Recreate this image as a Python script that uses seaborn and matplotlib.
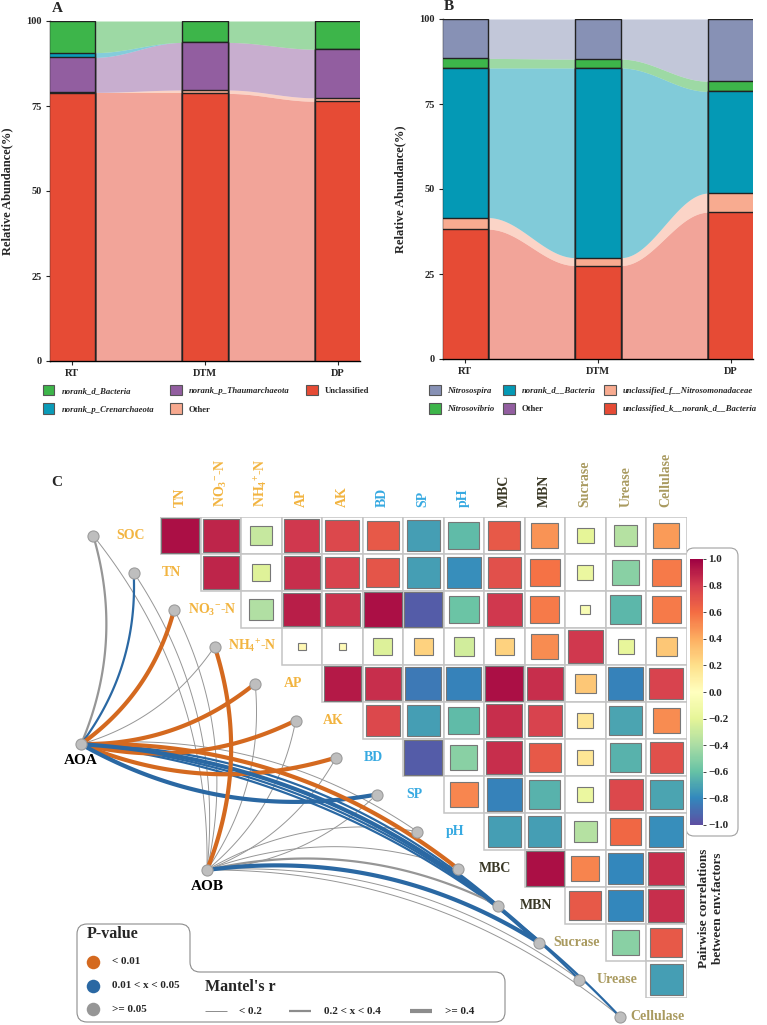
import numpy as np
import seaborn as sns
import matplotlib.pyplot as plt
from matplotlib.patches import Patch, Rectangle, FancyBboxPatch, PathPatch
from matplotlib.path import Path
from matplotlib.colors import Normalize
from matplotlib.cm import ScalarMappable
from matplotlib.ticker import FuncFormatter

sns.set_theme(style='ticks')
plt.rcParams['font.family'] = ['Liberation Serif', 'DejaVu Serif']
plt.rcParams.update({
    'font.weight': 'bold',
    'axes.labelweight': 'bold',
    'mathtext.fontset': 'custom',
    'mathtext.rm': 'Liberation Serif:bold',
    'mathtext.bf': 'Liberation Serif:bold',
    'mathtext.it': 'Liberation Serif:italic:bold',
    'mathtext.default': 'bf',
})

# ---------------- data ----------------
sites = ['RT', 'DTM', 'DP']

# panel A, stacked from bottom to top
a_taxa = ['Unclassified', 'Other', 'norank_p_Thaumarchaeota',
          'norank_p_Crenarchaeota', 'norank_d_Bacteria']
a_unclassified = [78.7, 78.7, 76.4]
a_other = [0.3, 1.0, 1.0]
a_thaum = [10.3, 14.0, 14.3]
a_cren = [1.4, 0.0, 0.0]
a_bacteria = [9.3, 6.3, 8.3]
a_colors = ['#E64B35', '#F7A98F', '#925EA0', '#0A9BB8', '#3DB54A']
a_legend_order = [4, 3, 2, 1, 0]

# panel B, stacked from bottom to top
b_taxa = ['unclassified_k__norank_d__Bacteria', 'unclassified_f__Nitrosomonadaceae',
          'norank_d__Bacteria', 'Other', 'Nitrosovibrio', 'Nitrosospira']
b_unc_k = [38.2, 27.5, 43.2]
b_unc_f = [3.4, 2.3, 5.6]
b_norank = [44.0, 55.8, 29.9]
b_other = [0.0, 0.0, 0.0]
b_vibrio = [2.8, 2.6, 3.0]
b_spira = [11.6, 11.8, 18.3]
b_colors = ['#E64B35', '#F8AB90', '#0499B5', '#925EA0', '#3DB54A', '#8791B5']
b_legend_order = [5, 4, 2, 3, 1, 0]

# panel C
env_labels = ['SOC', 'TN', r'NO$_3$$^{-}$-N', r'NH$_4$$^{+}$-N', 'AP', 'AK', 'BD', 'SP',
              'pH', 'MBC', 'MBN', 'Sucrase', 'Urease', 'Cellulase']
env_colors = ['#F2B440'] * 6 + ['#36A9E1'] * 3 + ['#3A3826'] * 2 + ['#A99A5F'] * 3

# pairwise correlations, row i holds columns i+1 .. 13
r_rows = [
    [0.95, 0.88, -0.31, 0.82, 0.75, 0.68, -0.72, -0.62, 0.68, 0.48, -0.20, -0.36, 0.46],
    [0.88, -0.22, 0.85, 0.78, 0.70, -0.72, -0.78, 0.72, 0.58, -0.16, -0.50, 0.56],
    [-0.38, 0.90, 0.83, 0.95, -0.95, -0.58, 0.82, 0.56, -0.06, -0.64, 0.56],
    [0.04, 0.03, -0.23, 0.25, -0.27, 0.25, 0.50, 0.82, -0.18, 0.30],
    [0.92, 0.85, -0.85, -0.82, 0.95, 0.85, 0.30, -0.82, 0.78],
    [0.75, -0.72, -0.62, 0.85, 0.78, 0.16, -0.70, 0.50],
    [-0.95, -0.50, 0.85, 0.68, 0.16, -0.65, 0.72],
    [0.52, -0.82, -0.65, -0.16, 0.75, -0.70],
    [-0.72, -0.72, -0.36, 0.62, -0.78],
    [0.95, 0.53, -0.80, 0.85],
    [0.68, -0.80, 0.85],
    [-0.50, 0.68],
    [-0.72],
]

# Mantel tests (AOA / AOB against each env factor)
aoa_p = ['>= 0.05', '0.01 < x < 0.05', '< 0.01', '>= 0.05', '< 0.01', '< 0.01', '< 0.01',
         '0.01 < x < 0.05', '>= 0.05', '< 0.01', '0.01 < x < 0.05', '0.01 < x < 0.05',
         '0.01 < x < 0.05', '0.01 < x < 0.05']
aoa_r = ['0.2 < x < 0.4', '0.2 < x < 0.4', '>= 0.4', '< 0.2', '>= 0.4', '>= 0.4', '>= 0.4',
         '>= 0.4', '< 0.2', '>= 0.4', '0.2 < x < 0.4', '>= 0.4', '0.2 < x < 0.4',
         '0.2 < x < 0.4']
aob_p = ['>= 0.05', '>= 0.05', '>= 0.05', '< 0.01', '>= 0.05', '>= 0.05', '>= 0.05',
         '>= 0.05', '>= 0.05', '>= 0.05', '>= 0.05', '0.01 < x < 0.05', '>= 0.05', '>= 0.05']
aob_r = ['< 0.2', '< 0.2', '< 0.2', '>= 0.4', '< 0.2', '< 0.2', '< 0.2', '< 0.2', '< 0.2',
         '< 0.2', '0.2 < x < 0.4', '>= 0.4', '< 0.2', '< 0.2']

p_levels = ['< 0.01', '0.01 < x < 0.05', '>= 0.05']
p_colors = ['#D4691F', '#2A68A3', '#969696']
r_levels = ['< 0.2', '0.2 < x < 0.4', '>= 0.4']
r_widths = [0.7, 1.6, 3.0]

# ---------------- figure ----------------
W, H = 767, 1025
fig = plt.figure(figsize=(W / 100, H / 100), dpi=100)


def px_axes(x0, y0, x1, y1):
    return fig.add_axes([x0 / W, 1 - y1 / H, (x1 - x0) / W, (y1 - y0) / H])


ov = px_axes(0, 0, W, H)
ov.set_xlim(0, W)
ov.set_ylim(H, 0)
ov.axis('off')


def draw_stack(ax, layers, colors, w=0.34):
    vals = np.array(layers)
    cum = np.cumsum(vals, axis=0)
    for k in range(len(vals) - 1, -1, -1):
        sns.barplot(x=sites, y=cum[k], color=colors[k], saturation=1, width=w,
                    edgecolor='#222222', linewidth=1.0, ax=ax, zorder=3)
    t = np.linspace(0, 1, 80)
    s = (1 - np.cos(np.pi * t)) / 2
    for i in range(len(sites) - 1):
        xs = i + w / 2 + t * (1 - w)
        for k in range(len(vals)):
            lo = np.zeros(len(sites)) if k == 0 else cum[k - 1]
            hi = cum[k]
            ax.fill_between(xs, lo[i] + (lo[i + 1] - lo[i]) * s,
                            hi[i] + (hi[i + 1] - hi[i]) * s,
                            color=colors[k], alpha=0.5, lw=0, zorder=1)
    ax.set_xlim(-0.165, 2.165)
    ax.set_ylim(0, 100)
    ax.set_yticks([0, 25, 50, 75, 100])
    ax.set_xlabel('')
    ax.set_ylabel('Relative Abundance(%)', fontsize=9, labelpad=9)
    ax.tick_params(labelsize=7.5, length=3, width=0.8, pad=3)
    for sp in ['top', 'right']:
        ax.spines[sp].set_visible(False)
    for sp in ['left', 'bottom']:
        ax.spines[sp].set_color('black')
        ax.spines[sp].set_linewidth(1.0)


def stack_legend(ax, taxa, colors, order, anchor, colspace, plain=('Other', 'Unclassified')):
    handles = [Patch(facecolor=colors[k], edgecolor='#555555', lw=0.8) for k in order]
    leg = ax.legend(handles, [taxa[k] for k in order], ncol=3, loc='upper left',
                    bbox_to_anchor=anchor, frameon=False, fontsize=6.2,
                    handlelength=1.35, handleheight=1.5, handletextpad=0.8,
                    columnspacing=colspace, labelspacing=0.95, borderpad=0,
                    borderaxespad=0)
    for txt in leg.get_texts():
        if txt.get_text() not in plain:
            txt.set_style('italic')
    return leg


axA = px_axes(50, 21, 360, 361)
draw_stack(axA, [a_unclassified, a_other, a_thaum, a_cren, a_bacteria], a_colors)
stack_legend(axA, a_taxa, a_colors, a_legend_order, (-0.023, -0.07), 1.9)

axB = px_axes(443, 19, 753, 359)
draw_stack(axB, [b_unc_k, b_unc_f, b_norank, b_other, b_vibrio, b_spira], b_colors)
stack_legend(axB, b_taxa, b_colors, b_legend_order, (-0.045, -0.075), 1.0)

ov.text(57, 8, 'A', fontsize=11, fontweight='bold', ha='center', va='center')
ov.text(449, 7, 'B', fontsize=11, fontweight='bold', ha='center', va='center')
ov.text(57, 482, 'C', fontsize=11, fontweight='bold', ha='center', va='center')

# ---------------- panel C: correlogram ----------------
axC = px_axes(160, 517, 686.5, 998)
axC.set_xlim(0, 13)
axC.set_ylim(13, 0)
axC.axis('off')
cmap = plt.get_cmap('Spectral_r')
norm = Normalize(-1, 1)

for i, row in enumerate(r_rows):
    for k, r in enumerate(row):
        j = i + k
        axC.add_patch(Rectangle((j, i), 1, 1, facecolor='white', edgecolor='#C4C4C4',
                                lw=1.1, zorder=1))
        s = np.sqrt(abs(r)) * 0.96
        axC.add_patch(Rectangle((j + 0.5 - s / 2, i + 0.5 - s / 2), s, s,
                                facecolor=cmap(norm(r)), edgecolor='#777777',
                                lw=0.8, zorder=2))

for j in range(13):
    axC.text(j + 0.5, -0.27, env_labels[j + 1], rotation=90, ha='center', va='bottom',
             fontsize=10, fontweight='bold', color=env_colors[j + 1])

nodes = [(i - 1.65, i + 0.5) for i in range(14)]
for i, (nx, ny) in enumerate(nodes):
    axC.text(i - 0.72, ny, env_labels[i], ha='center', va='center', fontsize=10,
             fontweight='bold', color=env_colors[i])

aoa_xy = (-1.95, 6.14)
aob_xy = (1.16, 9.54)


def curve(ax, p0, p1, sign, k=0.18, **kw):
    a = ax.transData.transform(p0)
    b = ax.transData.transform(p1)
    d = b - a
    L = np.hypot(*d)
    nrm = np.array([d[1], -d[0]]) / L
    c = (a + b) / 2 + sign * k * L * nrm
    t = np.linspace(0, 1, 80)[:, None]
    pts = (1 - t) ** 2 * a + 2 * (1 - t) * t * c + t ** 2 * b
    back = ax.transData.inverted().transform(pts)
    ax.plot(back[:, 0], back[:, 1], clip_on=False, solid_capstyle='round', **kw)


links = []
for src, ps, rs in [(aoa_xy, aoa_p, aoa_r), (aob_xy, aob_p, aob_r)]:
    for i in range(14):
        links.append((r_levels.index(rs[i]), src, nodes[i], ps[i], i))
for lvl, src, dst, p, i in sorted(links, key=lambda x: x[0]):
    curve(axC, src, dst, 1 if i <= 7 else -1,
          color=p_colors[p_levels.index(p)], lw=r_widths[lvl], zorder=3)

nx = [n[0] for n in nodes] + [aoa_xy[0], aob_xy[0]]
ny = [n[1] for n in nodes] + [aoa_xy[1], aob_xy[1]]
axC.plot(nx, ny, 'o', ms=8, mfc='#BEBEBE', mec='#9C9C9C', mew=0.8, zorder=5, clip_on=False)
axC.text(aoa_xy[0], aoa_xy[1] + 0.45, 'AOA', ha='center', va='center', fontsize=11,
         fontweight='bold', color='black')
axC.text(aob_xy[0], aob_xy[1] + 0.45, 'AOB', ha='center', va='center', fontsize=11,
         fontweight='bold', color='black')

# colorbar with rounded frame
ov.add_patch(FancyBboxPatch((686, 548), 52, 288, boxstyle='round,pad=0,rounding_size=8',
                            fc='white', ec='#A0A0A0', lw=0.8))
cax = px_axes(690, 559, 703, 825)
cb = fig.colorbar(ScalarMappable(norm=norm, cmap=cmap), cax=cax,
                  ticks=np.linspace(-1, 1, 11))
cb.outline.set_visible(False)
cb.ax.yaxis.set_major_formatter(FuncFormatter(
    lambda v, _: '0.0' if abs(v) < 1e-9 else f'{v:.1f}'.replace('-', '\u2212')))
cb.ax.tick_params(labelsize=8, length=2, width=0.6, pad=2)
ov.text(711, 908, 'Pairwise correlations\nbetween env.factors', rotation=90,
        ha='center', va='center', fontsize=9.5, fontweight='bold', linespacing=1.3)

# Mantel legend box
r0 = 10
x0, x1, x2, y0, y1, y2 = 77, 190, 505, 924, 972, 1022
verts = [(x0, y0 + r0), (x0, y2 - r0), (x0, y2), (x0 + r0, y2), (x2 - r0, y2), (x2, y2),
         (x2, y2 - r0), (x2, y1 + r0), (x2, y1), (x2 - r0, y1), (x1 + r0, y1), (x1, y1),
         (x1, y1 - r0), (x1, y0 + r0), (x1, y0), (x1 - r0, y0), (x0 + r0, y0), (x0, y0),
         (x0, y0 + r0)]
codes = [Path.MOVETO, Path.LINETO, Path.CURVE3, Path.CURVE3, Path.LINETO, Path.CURVE3,
         Path.CURVE3, Path.LINETO, Path.CURVE3, Path.CURVE3, Path.LINETO, Path.CURVE3,
         Path.CURVE3, Path.LINETO, Path.CURVE3, Path.CURVE3, Path.LINETO, Path.CURVE3,
         Path.CURVE3]
ov.add_patch(PathPatch(Path(verts, codes), fc='white', ec='#8C8C8C', lw=0.8, zorder=6))

ov.text(87, 934, 'P-value', fontsize=11.5, fontweight='bold', ha='left', va='center', zorder=7)
for k, lab in enumerate(p_levels):
    yy = 962 + 23.5 * k
    ov.scatter([93], [yy], s=95, color=p_colors[k], zorder=7, lw=0)
    ov.text(112, yy, lab, fontsize=8, fontweight='bold', ha='left', va='center', zorder=7)

ov.text(205, 987, "Mantel's r", fontsize=11.5, fontweight='bold', ha='left', va='center',
        zorder=7)
for (lx, tx), lab, lw in zip([(205, 239), (289, 324), (410, 445)], r_levels, r_widths):
    ov.plot([lx, lx + 22], [1011, 1011], color='#8C8C8C', lw=lw, zorder=7,
            solid_capstyle='butt')
    ov.text(tx, 1011, lab, fontsize=8, fontweight='bold', ha='left', va='center', zorder=7)

fig.savefig('out.png', dpi=100)
